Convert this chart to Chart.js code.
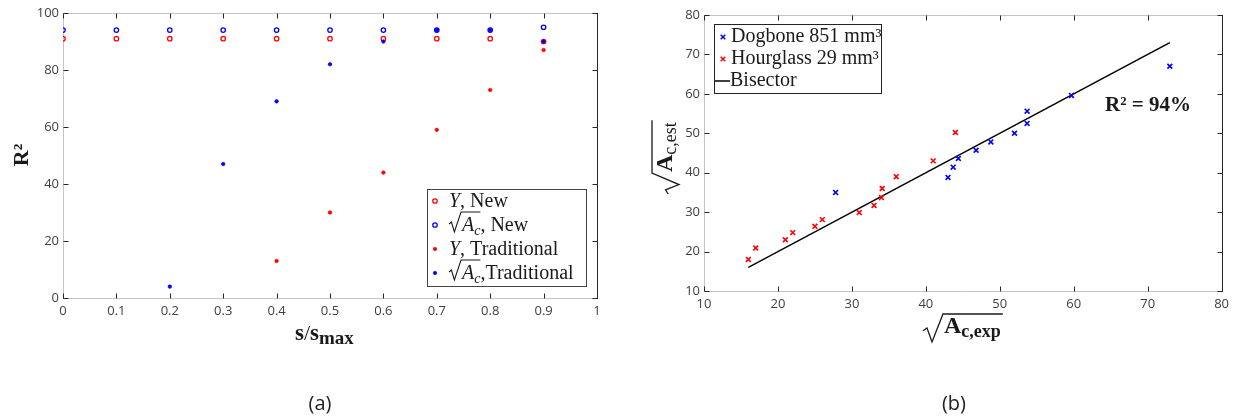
<!DOCTYPE html>
<html>
<head>
<meta charset="utf-8">
<script src="https://cdn.jsdelivr.net/npm/chart.js@4.4.1/dist/chart.umd.min.js"></script>
<style>
  body { margin: 0; background: #fff; }
  #wrap { position: relative; width: 1234px; height: 417px; overflow: hidden; }
  canvas { position: absolute; top: 0; }
  #ca { left: 0; }
  #cb { left: 620px; }
  .cap { position: absolute; top: 389px; width: 60px; text-align: center; font: 20px "Open Sans", sans-serif; color: #222; line-height: 28px; }
</style>
</head>
<body>
<div id="wrap">
  <canvas id="ca" width="620" height="417"></canvas>
  <canvas id="cb" width="614" height="417"></canvas>
  <div class="cap" style="left:290px">(a)</div>
  <div class="cap" style="left:924px">(b)</div>
</div>
<script>
// (a) R^2 against s/s_max
const sRatio = [0, 0.1, 0.2, 0.3, 0.4, 0.5, 0.6, 0.7, 0.8, 0.9];
const yNew   = [91, 91, 91, 91, 91, 91, 91, 91, 91, 90];
const acNew  = [94, 94, 94, 94, 94, 94, 94, 94, 94, 95];
const yTrad  = [null, null, null, null, 13, 30, 44, 59, 73, 87];
const acTrad = [null, null, 4, 47, 69, 82, 90, 94, 94, 90];
const aXTicks = [0, 0.1, 0.2, 0.3, 0.4, 0.5, 0.6, 0.7, 0.8, 0.9, 1];
const aYTicks = [0, 20, 40, 60, 80, 100];

// (b) estimated vs experimental sqrt(Ac)
const hgExp = [16, 17, 21, 22, 25, 26, 31, 33, 34, 34.1, 36, 41, 44];
const hgEst = [18, 20.9, 23, 24.8, 26.4, 28.1, 29.9, 31.7, 33.7, 36, 39, 43, 50.2];
const dbExp = [27.8, 43, 43.7, 44.4, 46.8, 48.8, 52, 53.7, 53.7, 59.7, 73];
const dbEst = [35, 38.8, 41.4, 43.6, 45.7, 47.8, 50, 52.5, 55.6, 59.6, 67];
const bisector = [16, 73];
const bTicks = [10, 20, 30, 40, 50, 60, 70, 80];

const RED = '#ff0000', BLUE = '#0000ff', INK = '#1a1a1a';
const SERIF = '"Liberation Serif", "Times New Roman", serif';
const TICK_FONT = { family: '"Open Sans", sans-serif', size: 13 };
const TICK_COLOR = '#404040';

function points(xs, ys) {
    return xs.map((x, i) => ({ x: x, y: ys[i] })).filter(p => p.y !== null);
}

// one linear axis; size fixes the axis box so the plot area lands where it should
function axis(pos, min, max, tickList, size) {
    const horiz = pos === 'bottom' || pos === 'top';
    return {
        type: 'linear', position: pos, min: min, max: max,
        afterBuildTicks: s => { s.ticks = tickList.map(v => ({ value: v })); },
        afterFit: s => { if (horiz) s.height = size; else s.width = size; },
        grid: { display: false, drawTicks: false },
        border: { display: false },
        ticks: {
            display: pos === 'bottom' || pos === 'left',
            padding: horiz ? 5 : 4,
            color: TICK_COLOR, font: TICK_FONT,
            maxRotation: 0, autoSkip: false,
            callback: v => String(v)
        }
    };
}

// matlab style box: grey left/bottom/top, dark right, ticks pointing inward
const boxPlugin = {
    id: 'matlabBox',
    beforeDatasetsDraw(chart) {
        const { ctx, chartArea: a } = chart;
        const xs = chart.scales.x, ys = chart.scales.y;
        const L = Math.round(a.left) + 0.5, R = Math.round(a.right) + 0.5;
        const T = Math.round(a.top) + 0.5, B = Math.round(a.bottom) + 0.5;
        ctx.save();
        ctx.lineWidth = 1;
        ctx.strokeStyle = '#c4c4c4';
        ctx.beginPath();
        ctx.moveTo(R, T); ctx.lineTo(L, T); ctx.lineTo(L, B); ctx.lineTo(R, B);
        ctx.stroke();
        ctx.strokeStyle = '#262626';
        ctx.beginPath();
        ctx.moveTo(R, T - 0.5); ctx.lineTo(R, B + 0.5);
        xs.ticks.forEach(t => {
            const px = Math.round(xs.getPixelForValue(t.value)) + 0.5;
            ctx.moveTo(px, B); ctx.lineTo(px, B - 5);
            ctx.moveTo(px, T); ctx.lineTo(px, T + 5);
        });
        ys.ticks.forEach(t => {
            const py = Math.round(ys.getPixelForValue(t.value)) + 0.5;
            ctx.moveTo(L, py); ctx.lineTo(L + 5, py);
            ctx.moveTo(R, py); ctx.lineTo(R - 5, py);
        });
        ctx.stroke();
        ctx.restore();
    }
};

function runs(ctx, x, y, parts) {
    parts.forEach(([t, font, dy]) => {
        ctx.font = font;
        ctx.fillText(t, x, y + (dy || 0));
        x += ctx.measureText(t).width;
    });
    return x;
}
function runsWidth(ctx, parts) {
    let w = 0;
    parts.forEach(([t, font]) => { ctx.font = font; w += ctx.measureText(t).width; });
    return w;
}
// square root sign with its overbar
function radical(ctx, x, top, bottom, w, bar) {
    const h = bottom - top;
    ctx.beginPath();
    ctx.moveTo(x, top + h * 0.6);
    ctx.lineTo(x + w * 0.2, top + h * 0.5);
    ctx.lineTo(x + w * 0.45, bottom);
    ctx.lineTo(x + w, top);
    ctx.lineTo(x + w + bar, top);
    ctx.stroke();
    return x + w;
}
function circleMark(ctx, x, y, color, filled) {
    ctx.beginPath();
    ctx.arc(x, y, filled ? 2 : 2.2, 0, Math.PI * 2);
    if (filled) { ctx.fillStyle = color; ctx.fill(); }
    else { ctx.strokeStyle = color; ctx.lineWidth = 1.3; ctx.stroke(); }
}
function crossMark(ctx, x, y, color) {
    ctx.beginPath();
    ctx.moveTo(x - 2.3, y - 2.3); ctx.lineTo(x + 2.3, y + 2.3);
    ctx.moveTo(x + 2.3, y - 2.3); ctx.lineTo(x - 2.3, y + 2.3);
    ctx.strokeStyle = color; ctx.lineWidth = 1.5; ctx.stroke();
}

const overlayA = {
    id: 'overlayA',
    afterDraw(chart) {
        const ctx = chart.ctx;
        ctx.save();
        ctx.fillStyle = INK; ctx.strokeStyle = INK;
        ctx.textBaseline = 'alphabetic';

        // axis titles
        ctx.save();
        ctx.translate(28, 155); ctx.rotate(-Math.PI / 2);
        ctx.textAlign = 'center';
        ctx.font = 'bold 22px ' + SERIF;
        ctx.fillText('R²', 0, 0);
        ctx.restore();
        runs(ctx, 295, 340, [['s', 'bold 23px ' + SERIF], ['/', '22px ' + SERIF],
            ['s', 'bold 23px ' + SERIF], ['max', 'bold 19px ' + SERIF, 4]]);

        // legend
        ctx.fillStyle = '#fff';
        ctx.fillRect(427, 189, 159, 97);
        ctx.strokeStyle = '#444'; ctx.lineWidth = 1;
        ctx.strokeRect(427.5, 189.5, 159, 97);
        const rows = [201, 225, 249, 273];
        circleMark(ctx, 435, rows[0], RED, false);
        circleMark(ctx, 435, rows[1], BLUE, false);
        circleMark(ctx, 435, rows[2], RED, true);
        circleMark(ctx, 435, rows[3], BLUE, true);

        ctx.fillStyle = INK; ctx.strokeStyle = INK; ctx.lineWidth = 1.1;
        const it = 'italic 20px ' + SERIF, rm = '20px ' + SERIF, sub = 'italic 14px ' + SERIF;
        runs(ctx, 449, rows[0] + 6, [['Y', it], [', New', rm]]);
        runs(ctx, 449, rows[2] + 6, [['Y', it], [', Traditional', rm]]);
        const ac = [['A', it], ['c', sub, 4]];
        const acW = runsWidth(ctx, ac);
        [[rows[1], ', New'], [rows[3], ',Traditional']].forEach(([ry, rest]) => {
            const x0 = radical(ctx, 449, ry - 13, ry + 7, 12, acW + 1);
            runs(ctx, x0 + 1, ry + 6, ac.concat([[rest, rm]]));
        });
        ctx.restore();
    }
};

const overlayB = {
    id: 'overlayB',
    afterDraw(chart) {
        const ctx = chart.ctx;
        ctx.save();
        ctx.fillStyle = INK; ctx.strokeStyle = INK; ctx.lineWidth = 1.3;
        ctx.textBaseline = 'alphabetic';

        const bigA = 'bold 24px ' + SERIF;
        // y title, rotated
        const est = [['A', bigA], ['c,est', '18px ' + SERIF, 4]];
        ctx.save();
        ctx.translate(52, 194); ctx.rotate(-Math.PI / 2);
        let x0 = radical(ctx, 0, -20, 7, 21, runsWidth(ctx, est) + 3);
        runs(ctx, x0 + 1, 0, est);
        ctx.restore();
        // x title
        const exp = [['A', bigA], ['c,exp', 'bold 18px ' + SERIF, 4]];
        x0 = radical(ctx, 303, 314, 342, 20, runsWidth(ctx, exp) + 3);
        runs(ctx, x0 + 1, 333, exp);

        // R^2 note
        ctx.font = 'bold 21px ' + SERIF;
        ctx.fillText('R² = 94%', 485, 111);

        // legend
        ctx.fillStyle = '#fff';
        ctx.fillRect(94, 24, 167, 69);
        ctx.strokeStyle = '#222'; ctx.lineWidth = 1;
        ctx.strokeRect(94.5, 24.5, 167, 69);
        crossMark(ctx, 103, 37, BLUE);
        crossMark(ctx, 103, 59, RED);
        ctx.strokeStyle = '#000'; ctx.lineWidth = 1.5;
        ctx.beginPath(); ctx.moveTo(95, 81); ctx.lineTo(110, 81); ctx.stroke();
        ctx.fillStyle = INK;
        ctx.font = '20px ' + SERIF;
        ctx.fillText('Dogbone 851 mm³', 111, 42);
        ctx.fillText('Hourglass 29 mm³', 111, 64);
        ctx.fillText('Bisector', 110, 86);
        ctx.restore();
    }
};

const common = {
    responsive: false,
    animation: false,
    devicePixelRatio: 1,
    layout: { padding: 0 },
    plugins: { legend: { display: false }, tooltip: { enabled: false } },
    events: []
};

function openDot(color, order, data) {
    return { data: data, order: order, pointStyle: 'circle', pointRadius: 2.2, pointBorderWidth: 1.3,
        pointBorderColor: color, pointBackgroundColor: 'rgba(0,0,0,0)', showLine: false };
}
function solidDot(color, order, data) {
    return { data: data, order: order, pointStyle: 'circle', pointRadius: 1.8, pointBorderWidth: 0.6,
        pointBorderColor: color, pointBackgroundColor: color, showLine: false };
}

new Chart(document.getElementById('ca'), {
    type: 'scatter',
    data: {
        datasets: [
            openDot(RED, 4, points(sRatio, yNew)),
            openDot(BLUE, 3, points(sRatio, acNew)),
            solidDot(RED, 2, points(sRatio, yTrad)),
            solidDot(BLUE, 1, points(sRatio, acTrad))
        ]
    },
    options: Object.assign({}, common, {
        scales: {
            x: axis('bottom', 0, 1, aXTicks, 119),
            x2: axis('top', 0, 1, aXTicks, 13),
            y: axis('left', 0, 100, aYTicks, 63),
            y2: axis('right', 0, 100, aYTicks, 23)
        }
    }),
    plugins: [boxPlugin, overlayA]
});

function cross(color, data) {
    return { data: data, pointStyle: 'crossRot', pointRadius: 3.4, pointBorderWidth: 1.6,
        pointBorderColor: color, pointBackgroundColor: color, showLine: false };
}

new Chart(document.getElementById('cb'), {
    type: 'scatter',
    data: {
        datasets: [
            cross(BLUE, points(dbExp, dbEst)),
            cross(RED, points(hgExp, hgEst)),
            { data: points(bisector, bisector), showLine: true, borderColor: '#000', borderWidth: 1.5, pointRadius: 0 }
        ]
    },
    options: Object.assign({}, common, {
        scales: {
            x: axis('bottom', 10, 80, bTicks, 126),
            x2: axis('top', 10, 80, bTicks, 15),
            y: axis('left', 10, 80, bTicks, 84),
            y2: axis('right', 10, 80, bTicks, 11)
        }
    }),
    plugins: [boxPlugin, overlayB]
});
</script>
</body>
</html>
